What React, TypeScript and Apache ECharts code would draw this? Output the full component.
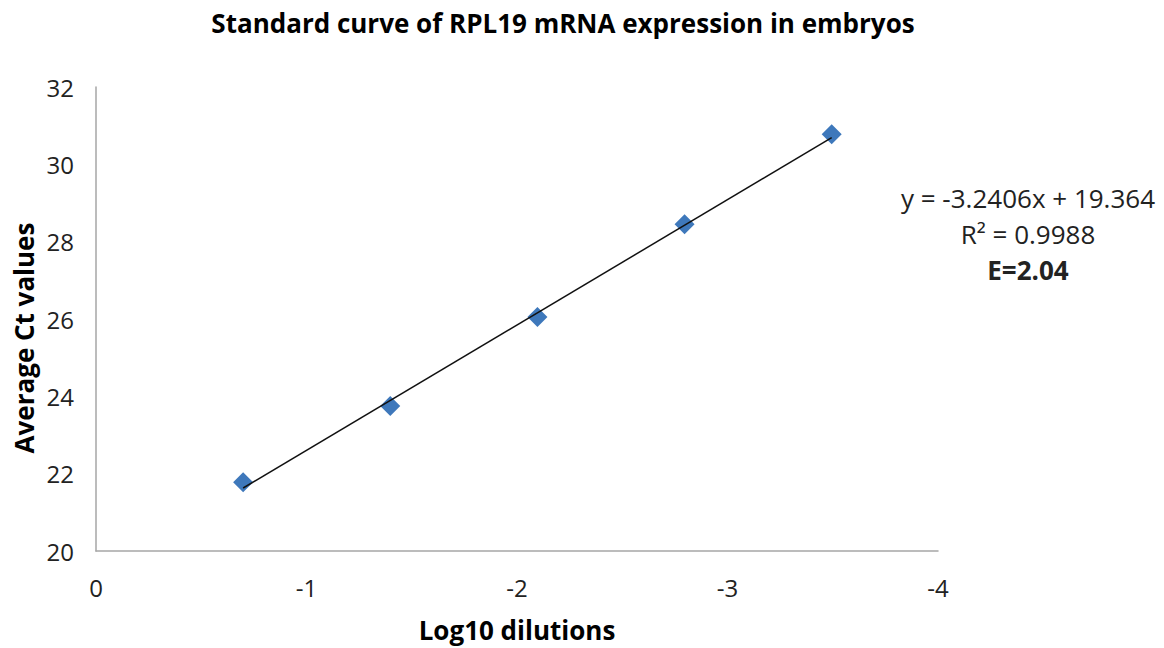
import React, { useEffect, useRef } from "react";
import * as echarts from "echarts";

const logDilutions = [-0.699, -1.398, -2.097, -2.796, -3.495];
const avgCt = [21.78, 23.75, 26.05, 28.45, 30.78];
const slope = -3.2406;
const intercept = 19.364;
const annotationLines = ["y = -3.2406x + 19.364", "R² = 0.9988", "E=2.04"];

const FONT = "'Open Sans', 'Noto Sans', sans-serif";

export default function App() {
  const ref = useRef<HTMLDivElement>(null);
  useEffect(() => {
    if (!ref.current) return;
    const chart = echarts.init(ref.current, null, { renderer: "svg" });
    const x0 = logDilutions[0];
    const x1 = logDilutions[logDilutions.length - 1];
    const trend = [
      [x0, slope * x0 + intercept],
      [x1, slope * x1 + intercept],
    ];
    chart.setOption({
      animation: false,
      backgroundColor: "#ffffff",
      textStyle: { fontFamily: FONT },
      title: {
        text: "Standard curve of RPL19 mRNA expression in embryos",
        left: 558,
        textAlign: "center",
        top: 5,
        textStyle: { fontFamily: FONT, fontSize: 26, fontWeight: "bold", color: "#000" },
      },
      grid: { left: 96, top: 87, right: 226, bottom: 97, containLabel: false },
      xAxis: {
        type: "value",
        min: -4,
        max: 0,
        interval: 1,
        inverse: true,
        axisLine: { show: true, onZero: false, lineStyle: { color: "#a6a6a6", width: 1.5 } },
        axisTick: { show: false },
        splitLine: { show: false },
        axisLabel: { fontFamily: FONT, fontSize: 24, color: "#222", margin: 24 },
      },
      yAxis: {
        type: "value",
        min: 20,
        max: 32,
        interval: 2,
        axisLine: { show: true, onZero: false, lineStyle: { color: "#a6a6a6", width: 1.5 } },
        axisTick: { show: false },
        splitLine: { show: false },
        axisLabel: { fontFamily: FONT, fontSize: 24, color: "#222", margin: 22 },
      },
      series: [
        {
          type: "line",
          data: trend,
          symbol: "none",
          lineStyle: { color: "#111", width: 1.5 },
          z: 3,
        },
        {
          type: "scatter",
          data: logDilutions.map((x, i) => [x, avgCt[i]]),
          symbol: "diamond",
          symbolSize: [20, 20],
          itemStyle: { color: "#3e78bb", opacity: 1 },
          z: 2,
        },
      ],
      graphic: [
        ...annotationLines.map((t, i) => ({
          type: "text",
          x: 1028,
          y: 198 + i * 36,
          style: {
            text: t,
            fontFamily: FONT,
            fontSize: 26,
            fontWeight: i === 2 ? "bold" : "normal",
            fill: "#222",
            align: "center",
            verticalAlign: "middle",
          },
        })),
        {
          type: "text",
          x: 517,
          y: 630,
          style: {
            text: "Log10 dilutions",
            fontFamily: FONT,
            fontSize: 26,
            fontWeight: "bold",
            fill: "#000",
            align: "center",
            verticalAlign: "middle",
          },
        },
        {
          type: "text",
          x: 24,
          y: 338,
          rotation: Math.PI / 2,
          style: {
            text: "Average Ct values",
            fontFamily: FONT,
            fontSize: 26,
            fontWeight: "bold",
            fill: "#000",
            align: "center",
            verticalAlign: "middle",
          },
        },
      ],
    });
    return () => chart.dispose();
  }, []);
  return <div ref={ref} style={{ width: 1164, height: 648, position: "absolute", left: 0, top: 0 }} />;
}
